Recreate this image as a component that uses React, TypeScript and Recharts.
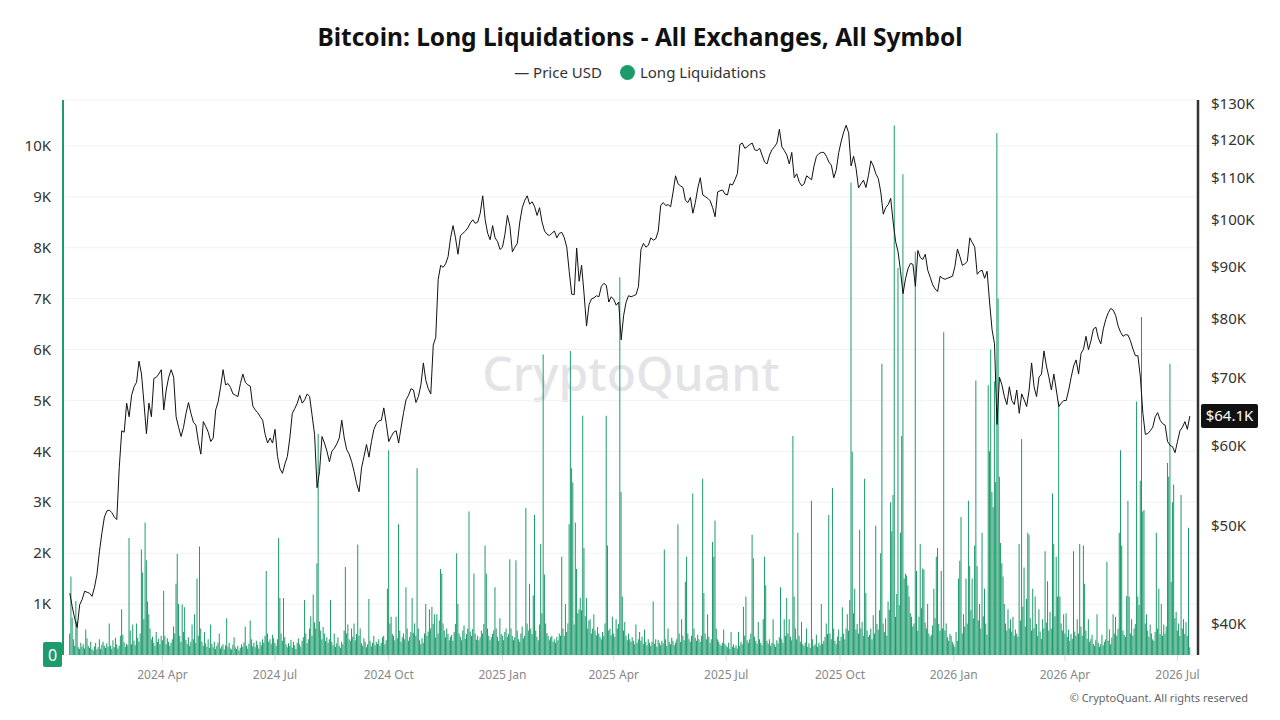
import React from "react";
import {
  ComposedChart,
  Bar,
  Line,
  XAxis,
  YAxis,
  CartesianGrid,
  ReferenceLine,
} from "recharts";

const GREEN = "#1d9b6c";
const FONT = "'Noto Sans', sans-serif";

// day index = days since 2024-01-01
const tickDays = [91, 182, 274, 366, 456, 547, 639, 731, 821, 912];
const tickLabels = [
  "2024 Apr", "2024 Jul", "2024 Oct", "2025 Jan", "2025 Apr",
  "2025 Jul", "2025 Oct", "2026 Jan", "2026 Apr", "2026 Jul",
];

const liqTicks = [0, 1000, 2000, 3000, 4000, 5000, 6000, 7000, 8000, 9000, 10000];
const priceTicks = [40, 50, 60, 70, 80, 90, 100, 110, 120, 130];

// daily long liquidations, one array per quarter
const liqQ1_2024 = [
  420, 1540, 730, 310, 180, 1060, 660, 150, 120, 240,
  160, 210, 130, 500, 330, 180, 140, 260, 120, 90,
  170, 240, 110, 150, 310, 120, 200, 260, 180, 140,
  230, 160, 620, 180, 120, 290, 150, 340, 210, 130,
  180, 380, 900, 400, 250, 160, 220, 190, 2300, 480,
  210, 600, 280, 190, 620, 340, 260, 420, 2070, 1620,
  700, 2600, 1860, 1050, 800, 520, 310, 360, 240, 180,
  450, 260, 320, 210, 380,
];
const liqQ2_2024 = [
  290, 1260, 380, 210, 330, 260, 180, 240, 310, 560,
  420, 1400, 1990, 1000, 380, 260, 990, 450, 940, 300,
  220, 350, 180, 260, 600, 310, 800, 240, 1500, 380,
  2130, 520, 260, 180, 450, 230, 160, 310, 140, 600,
  220, 150, 260, 120, 180, 240, 420, 130, 170, 210,
  110, 190, 720, 160, 240, 130, 110, 200, 350, 150,
  120, 180, 90, 140, 210, 160, 250, 560, 180, 130,
  220, 680, 310, 170, 240, 150, 280, 200, 130, 260,
  190, 310, 240, 380, 1650, 420, 260, 310, 220, 400,
  330,
];
const liqQ3_2024 = [
  240, 180, 310, 2300, 1120, 420, 280, 1120, 350, 210,
  150, 230, 180, 300, 140, 260, 190, 120, 240, 330,
  210, 160, 280, 350, 1080, 420, 230, 310, 520, 760,
  380, 1190, 640, 520, 1800, 4340, 660, 480, 310, 550,
  420, 280, 350, 240, 310, 1080, 260, 190, 420, 160,
  230, 350, 180, 140, 260, 210, 480, 1730, 420, 600,
  310, 280, 520, 360, 620, 290, 410, 2170, 380, 520,
  230, 180, 330, 260, 150, 210, 1100, 280, 170, 240,
  380, 190, 260, 220, 310, 180, 240, 350, 380, 210,
  290, 1300,
];
const liqQ4_2024 = [
  4020, 620, 750, 410, 380, 290, 750, 330, 2570, 480,
  260, 350, 420, 310, 1330, 520, 280, 360, 450, 1120,
  430, 620, 380, 3670, 520, 290, 210, 330, 240, 420,
  1000, 380, 460, 900, 520, 950, 610, 800, 350, 800,
  420, 680, 1690, 1600, 620, 480, 350, 520, 410, 290,
  360, 400, 280, 450, 610, 2000, 1000, 420, 360, 290,
  480, 580, 320, 410, 520, 2820, 460, 380, 510, 1600,
  420, 300, 380, 290, 350, 480, 420, 610, 2150, 1600,
  520, 380, 290, 350, 410, 480, 1330, 520, 360, 280,
  720, 410,
];
const liqQ1_2025 = [
  380, 290, 450, 520, 360, 410, 1880, 520, 380, 290,
  350, 1860, 480, 310, 260, 420, 560, 330, 380, 2890,
  620, 480, 1400, 520, 410, 1170, 2750, 480, 360, 290,
  600, 2180, 820, 5900, 1580, 620, 430, 380, 290, 350,
  380, 260, 310, 240, 360, 290, 420, 380, 1930, 520,
  380, 1000, 450, 620, 2570, 5970, 3670, 3390, 600, 2600,
  1690, 820, 900, 1120, 880, 4700, 2100, 760, 1120, 520,
  680, 700, 420, 520, 800, 480, 390, 550, 420, 360,
  310, 450, 380, 620, 4700, 2150, 480, 520, 390, 750,
];
const liqQ2_2025 = [
  420, 360, 700, 520, 610, 7420, 3200, 1150, 480, 650,
  380, 290, 420, 310, 260, 350, 280, 210, 600, 240,
  310, 450, 280, 360, 220, 500, 260, 190, 310, 240,
  180, 260, 1050, 220, 310, 160, 300, 240, 190, 280,
  230, 2070, 310, 180, 520, 260, 210, 340, 280, 190,
  240, 310, 2570, 420, 260, 700, 380, 290, 1440, 1930,
  420, 310, 260, 380, 3170, 520, 340, 280, 400, 310,
  260, 380, 3460, 1220, 420, 310, 800, 360, 240, 310,
  2220, 1930, 2640, 520, 310, 260, 210, 180, 240, 500,
  220,
];
const liqQ3_2025 = [
  180, 150, 240, 120, 450, 160, 210, 140, 190, 130,
  450, 180, 260, 210, 950, 380, 1150, 290, 240, 310,
  420, 2360, 1900, 360, 280, 220, 650, 310, 240, 190,
  700, 1930, 1370, 280, 220, 310, 180, 240, 700, 210,
  160, 290, 230, 350, 1330, 310, 240, 700, 380, 1120,
  420, 700, 360, 290, 4300, 1150, 520, 310, 2400, 380,
  260, 650, 210, 180, 240, 520, 160, 230, 140, 3030,
  310, 180, 210, 400, 160, 240, 190, 1000, 220, 280,
  360, 620, 410, 2750, 420, 310, 3280, 520, 280, 210,
  360, 500,
];
const liqQ4_2025 = [
  280, 360, 940, 420, 310, 520, 800, 480, 1080, 9280,
  3990, 820, 1300, 500, 610, 420, 2460, 520, 650, 380,
  3460, 1220, 480, 360, 400, 520, 310, 780, 420, 2540,
  610, 500, 880, 2000, 5720, 620, 450, 720, 380, 1050,
  890, 3000, 2430, 3140, 10400, 750, 1200, 7600, 980, 2400,
  4300, 9440, 1500, 1600, 1560, 1370, 1150, 820, 750, 560,
  620, 7920, 1650, 480, 750, 2180, 920, 1700, 1680, 640,
  520, 1000, 420, 360, 400, 580, 1300, 720, 1930, 2100,
  610, 480, 1650, 520, 6340, 480, 620, 350, 280, 410,
  380, 260,
];
const liqQ1_2026 = [
  210, 160, 450, 280, 1500, 1850, 2710, 420, 800, 560,
  1500, 620, 3030, 1750, 880, 1500, 720, 2150, 5390, 1750,
  680, 1000, 520, 2400, 760, 1300, 620, 400, 5300, 4000,
  6000, 3200, 2900, 5370, 3400, 10250, 7000, 3500, 2200, 1800,
  1540, 1000, 620, 480, 900, 520, 700, 460, 750, 380,
  500, 420, 360, 2180, 680, 4240, 950, 1720, 560, 1100,
  2400, 2360, 720, 480, 1300, 520, 1150, 610, 380, 900,
  460, 320, 700, 520, 2040, 640, 1450, 480, 850, 520,
  3170, 2180, 760, 1930, 1150, 4980, 1150, 620, 480, 800,
];
const liqQ2_2026 = [
  420, 820, 360, 500, 280, 410, 320, 2040, 460, 380,
  700, 420, 2180, 560, 380, 2150, 1400, 480, 320, 700,
  260, 310, 400, 220, 180, 290, 800, 240, 160, 210,
  400, 190, 260, 310, 1830, 280, 500, 210, 340, 800,
  420, 750, 380, 520, 2400, 4020, 2150, 480, 400, 360,
  1160, 3030, 1150, 420, 700, 380, 520, 610, 4980, 1150,
  980, 3420, 6640, 2820, 2850, 620, 800, 480, 360, 600,
  420, 310, 280, 450, 2400, 520, 1300, 410, 1000, 380,
  600, 420, 560, 3770, 3500, 5720, 1440, 3000, 3350, 720,
  850,
];
const liqQ3_2026 = [480, 620, 380, 3140, 520, 700, 410, 650, 380, 2500, 150];

// BTC price in $K, one reading every 2 days, one array per quarter
const priceQ1_2024 = [
  42.9, 41.6, 40.5, 39.7, 41.8, 42.3, 43.1, 43.0, 42.9, 42.6,
  43.5, 44.8, 47.2, 49.2, 51.0, 51.7, 51.8, 51.5, 51.0, 50.7,
  57.0, 62.0, 61.8, 66.0, 64.0, 67.2, 68.5, 69.2, 72.6, 70.5,
  66.0, 61.6, 66.0, 64.0, 69.8, 70.0, 70.5, 71.2,
];
const priceQ2_2024 = [
  65.0, 68.0, 70.0, 71.2, 70.0, 64.0, 62.5, 61.2, 62.5, 64.5,
  66.1, 64.5, 63.2, 62.8, 60.5, 58.8, 63.3, 62.6, 61.8, 60.5,
  61.0, 65.0, 66.2, 68.5, 71.2, 68.8, 69.0, 68.4, 67.4, 67.2,
  67.0, 69.0, 70.5, 69.2, 68.8, 68.6, 65.6, 65.0, 64.6, 64.0,
  63.5, 61.5, 60.3, 61.0, 60.3,
];
const priceQ3_2024 = [
  62.2, 58.5, 56.9, 56.3, 57.5, 58.5, 61.0, 64.5, 65.2, 66.0,
  67.2, 66.0, 66.5, 67.4, 67.0, 64.2, 61.5, 54.5, 56.5, 61.2,
  60.3, 59.2, 57.8, 59.2, 59.6, 60.2, 61.0, 63.5, 61.0, 59.4,
  58.8, 57.8, 56.5, 55.0, 54.0, 57.0, 58.5, 60.1, 58.4, 60.5,
  62.2, 63.0, 63.4, 63.5, 65.3, 63.0,
];
const priceQ4_2024 = [
  60.5, 61.2, 61.8, 62.0, 60.3, 62.5, 64.6, 66.5, 67.2, 68.2,
  68.0, 66.1, 67.0, 68.8, 72.3, 69.5, 68.2, 67.4, 75.3, 76.6,
  87.4, 90.2, 89.8, 90.5, 92.0, 96.0, 98.7, 96.0, 92.5, 96.5,
  97.0, 97.5, 98.2, 99.3, 100.0, 99.2, 99.5, 101.5, 105.6, 100.0,
  97.0, 95.6, 98.7, 96.0, 95.2, 93.5,
];
const priceQ1_2025 = [
  94.0, 96.8, 101.0, 98.5, 93.0, 94.0, 94.8, 99.5, 102.8, 104.5,
  105.6, 103.6, 104.2, 103.0, 101.0, 102.8, 99.5, 97.5, 96.8, 96.5,
  97.0, 97.5, 96.0, 97.0, 97.2, 96.0, 94.0, 88.9, 84.5, 84.4,
  93.8, 87.0, 90.2, 84.5, 78.6, 82.5, 83.6, 83.8, 84.2, 84.0,
  86.0, 86.6, 86.2, 83.0, 84.0,
];
const priceQ2_2025 = [
  83.5, 82.4, 83.0, 76.2, 80.5, 83.0, 84.2, 84.0, 84.2, 84.4,
  86.0, 93.5, 94.8, 94.0, 94.4, 96.0, 95.5, 95.8, 97.5, 103.3,
  104.0, 103.3, 103.5, 103.0, 106.5, 110.5, 108.5, 108.0, 107.6, 104.5,
  104.0, 105.2, 101.5, 104.0, 107.5, 110.0, 105.8, 105.4, 105.0, 104.4,
  102.8, 100.7, 106.5, 106.8, 107.0, 106.0,
];
const priceQ3_2025 = [
  105.8, 108.5, 108.2, 109.5, 111.0, 118.6, 119.0, 117.6, 118.0, 118.6,
  119.0, 117.2, 117.0, 117.6, 115.8, 114.0, 113.5, 115.8, 117.2, 118.0,
  119.0, 122.8, 118.0, 117.0, 115.8, 113.5, 116.5, 110.0, 111.0, 109.0,
  108.0, 108.5, 110.5, 110.0, 109.5, 113.0, 115.5, 116.2, 116.5, 116.5,
  115.5, 114.0, 113.2, 110.0, 112.0, 116.5,
];
const priceQ4_2025 = [
  119.5, 122.0, 123.9, 121.8, 113.0, 115.5, 112.4, 107.5, 108.5, 109.4,
  107.6, 110.5, 114.3, 113.0, 111.0, 109.8, 106.5, 101.3, 102.8, 103.5,
  105.0, 99.5, 95.2, 93.0, 89.0, 84.6, 87.5, 89.5, 90.6, 90.4,
  86.0, 93.3, 91.8, 91.4, 92.5, 89.2, 87.8, 86.3, 85.5, 85.0,
  88.0, 87.6, 87.4, 87.6, 87.8, 88.0,
];
const priceQ1_2026 = [
  90.0, 93.6, 92.0, 90.2, 90.5, 91.0, 96.0, 95.0, 94.0, 88.4,
  89.0, 89.2, 87.6, 89.0, 83.0, 78.0, 75.5, 62.9, 70.0, 68.8,
  67.0, 65.8, 68.5, 66.4, 65.8, 68.0, 64.5, 67.4, 66.5, 65.5,
  68.0, 72.3, 68.5, 67.0, 70.0, 70.5, 74.3, 71.8, 70.0, 68.0,
  70.5, 68.0, 65.5, 66.0, 66.4,
];
const priceQ2_2026 = [
  66.4, 68.0, 70.0, 71.8, 72.8, 70.5, 73.9, 74.6, 76.8, 74.5,
  76.0, 78.1, 78.4, 76.5, 75.5, 78.1, 79.8, 81.0, 81.8, 81.5,
  80.5, 78.6, 77.5, 76.8, 77.1, 77.0, 76.0, 74.6, 73.5, 73.5,
  70.0, 64.5, 61.5, 61.6, 62.0, 62.5, 64.0, 64.6, 63.5, 63.0,
  62.8, 60.5, 60.0, 59.8, 59.0,
];
const priceQ3_2026 = [60.5, 62.0, 62.5, 63.3, 62.2, 64.1];

const liqBlocks: [number, number[]][] = [
  [16, liqQ1_2024], [91, liqQ2_2024], [182, liqQ3_2024], [274, liqQ4_2024],
  [366, liqQ1_2025], [456, liqQ2_2025], [547, liqQ3_2025], [639, liqQ4_2025],
  [731, liqQ1_2026], [821, liqQ2_2026], [912, liqQ3_2026],
];
const priceBlocks: [number, number[]][] = [
  [16, priceQ1_2024], [92, priceQ2_2024], [182, priceQ3_2024], [274, priceQ4_2024],
  [366, priceQ1_2025], [456, priceQ2_2025], [548, priceQ3_2025], [640, priceQ4_2025],
  [732, priceQ1_2026], [822, priceQ2_2026], [912, priceQ3_2026],
];

type Row = { day: number; liq?: number; price?: number };

function buildRows(): Row[] {
  const rows = new Map<number, Row>();
  const at = (day: number) => {
    let r = rows.get(day);
    if (!r) {
      r = { day };
      rows.set(day, r);
    }
    return r;
  };
  liqBlocks.forEach(([start, vals]) => vals.forEach((v, i) => (at(start + i).liq = v)));
  priceBlocks.forEach(([start, vals]) => vals.forEach((v, i) => (at(start + 2 * i).price = v)));
  return [...rows.values()].sort((a, b) => a.day - b.day);
}

const data = buildRows();
const lastPrice = priceQ3_2026[priceQ3_2026.length - 1];

function LeftTick(props: any) {
  const { x, y, payload } = props;
  const v = payload.value as number;
  if (v === 0) {
    return (
      <g>
        <rect x={43} y={y - 13} width={19} height={25} rx={2} fill={GREEN} />
        <text x={52.5} y={y} dy="0.35em" textAnchor="middle" fill="#fff" fontSize={16} fontFamily={FONT}>
          0
        </text>
      </g>
    );
  }
  return (
    <text x={x} y={y} dy="0.35em" textAnchor="end" fill="#333" fontSize={15} fontFamily={FONT}>
      {`${v / 1000}K`}
    </text>
  );
}

function PriceTag(props: any) {
  const { viewBox, text } = props;
  if (!viewBox) return null;
  const x = viewBox.x + viewBox.width + 3;
  const y = viewBox.y;
  return (
    <g>
      <rect x={x} y={y - 12} width={57} height={24} rx={2} fill="#111" />
      <text x={x + 28.5} y={y} dy="0.35em" textAnchor="middle" fill="#fff" fontSize={15} fontFamily={FONT}>
        {text}
      </text>
    </g>
  );
}

export default function App() {
  return (
    <div
      style={{
        position: "absolute",
        left: 0,
        top: 0,
        width: 1280,
        height: 720,
        background: "#fff",
        fontFamily: FONT,
        overflow: "hidden",
      }}
    >
      <div
        style={{
          position: "absolute",
          top: 20,
          width: 1280,
          textAlign: "center",
          fontSize: 24.5,
          fontWeight: 700,
          color: "#111",
          lineHeight: "34px",
        }}
      >
        Bitcoin: Long Liquidations - All Exchanges, All Symbol
      </div>
      <div
        style={{
          position: "absolute",
          top: 61,
          width: 1280,
          display: "flex",
          justifyContent: "center",
          alignItems: "center",
          gap: 18,
          fontSize: 15,
          color: "#333",
          lineHeight: "22px",
        }}
      >
        <span>— Price USD</span>
        <span style={{ display: "flex", alignItems: "center" }}>
          <span
            style={{
              display: "inline-block",
              width: 15,
              height: 15,
              borderRadius: "50%",
              background: GREEN,
              marginRight: 5,
            }}
          />
          Long Liquidations
        </span>
      </div>
      <div
        style={{
          position: "absolute",
          top: 343,
          width: 1262,
          textAlign: "center",
          fontSize: 48,
          fontWeight: 500,
          color: "#e4e4e8",
          lineHeight: "60px",
        }}
      >
        CryptoQuant
      </div>
      <div style={{ position: "absolute", left: 0, top: 0 }}>
        <ComposedChart
          width={1280}
          height={720}
          data={data}
          margin={{ top: 100, right: 0, bottom: 35, left: 0 }}
        >
          <CartesianGrid yAxisId="liq" vertical={false} stroke="#f2f2f2" />
          <XAxis
            dataKey="day"
            type="number"
            domain={[10.5, 928.6]}
            allowDataOverflow
            ticks={tickDays}
            tickFormatter={(d: number) => tickLabels[tickDays.indexOf(d)] ?? ""}
            axisLine={false}
            tickLine={{ stroke: "#dddddd" }}
            tickSize={6}
            tickMargin={9}
            height={30}
            tick={{ fill: "#888", fontSize: 12, fontFamily: FONT }}
          />
          <YAxis
            yAxisId="liq"
            orientation="left"
            width={63}
            domain={[0, 10900]}
            allowDataOverflow
            ticks={liqTicks}
            axisLine={{ stroke: GREEN, strokeWidth: 2 }}
            tickLine={false}
            tickSize={0}
            tickMargin={12}
            tick={<LeftTick />}
          />
          <YAxis
            yAxisId="price"
            orientation="right"
            width={82}
            scale="log"
            domain={[37.3, 131.2]}
            allowDataOverflow
            ticks={priceTicks}
            tickFormatter={(v: number) => `$${v}K`}
            axisLine={{ stroke: "#333", strokeWidth: 2.5 }}
            tickLine={false}
            tickSize={0}
            tickMargin={13}
            tick={{ fill: "#333", fontSize: 15, fontFamily: FONT }}
          />
          <Bar
            yAxisId="liq"
            dataKey="liq"
            fill={GREEN}
            barSize={1}
            isAnimationActive={false}
          />
          <Line
            yAxisId="price"
            dataKey="price"
            type="linear"
            stroke="#111"
            strokeWidth={1}
            dot={false}
            connectNulls
            isAnimationActive={false}
          />
          <ReferenceLine
            yAxisId="price"
            y={lastPrice}
            stroke="none"
            label={<PriceTag text={`$${lastPrice.toFixed(1)}K`} />}
          />
        </ComposedChart>
      </div>
      <div
        style={{
          position: "absolute",
          top: 690,
          right: 32,
          fontSize: 11,
          color: "#666",
        }}
      >
        © CryptoQuant. All rights reserved
      </div>
    </div>
  );
}
